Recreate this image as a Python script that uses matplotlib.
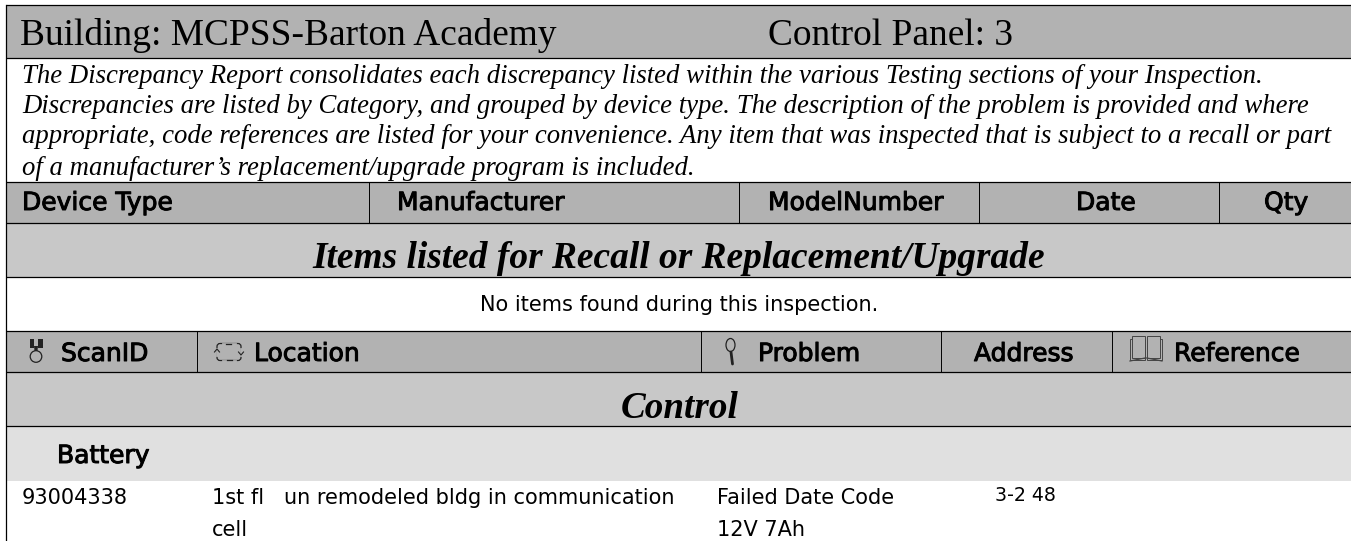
import matplotlib
matplotlib.use('Agg')
from matplotlib import pyplot as plt
from matplotlib import patheffects as pe
from matplotlib.patches import Rectangle, Circle, Ellipse, FancyBboxPatch, Polygon

W, H = 1351, 541

building = 'Building: MCPSS-Barton Academy'
panel = 'Control Panel: 3'
intro_lines = [
    'The Discrepancy Report consolidates each discrepancy listed within the various Testing sections of your Inspection.',
    'Discrepancies are listed by Category, and grouped by device type. The description of the problem is provided and where',
    'appropriate, code references are listed for your convenience. Any item that was inspected that is subject to a recall or part',
    'of a manufacturer\u2019s replacement/upgrade program is included.',
]
recall_cols = ['Device Type', 'Manufacturer', 'ModelNumber', 'Date', 'Qty']
recall_title = 'Items listed for Recall or Replacement/Upgrade'
recall_empty = 'No items found during this inspection.'
disc_cols = ['ScanID', 'Location', 'Problem', 'Address', 'Reference']
category = 'Control'
device_group = 'Battery'
scan_id = '93004338'
location_lines = ['1st fl   un remodeled bldg in communication', 'cell']
problem_lines = ['Failed Date Code', '12V 7Ah']
address = '3-2 48'

DARK = '#b2b2b2'
MID = '#c8c8c8'
LIGHT = '#e0e0e0'
INK = '#222222'
SERIF = 'Liberation Serif'
SANS = 'DejaVu Sans'

fig = plt.figure(figsize=(W / 100, H / 100), dpi=100)
ax = fig.add_axes([0, 0, 1, 1])
ax.set_xlim(0, W)
ax.set_ylim(H, 0)
ax.axis('off')

# background bands
for y0, y1, c in [(5, 58, DARK), (181.5, 223, DARK), (223, 277, MID), (331, 372, DARK),
                  (372, 426, MID), (426, 481, LIGHT)]:
    ax.add_patch(Rectangle((5.5, y0), W - 5, y1 - y0, fc=c, ec='none', zorder=1))

# rules
for y in [4.5, 58, 181.5, 223, 277, 331, 372, 426]:
    ax.plot([5.5, W], [y, y], color='black', lw=0.9, zorder=2, solid_capstyle='butt')
ax.plot([5.5, 5.5], [4.5, H], color='black', lw=0.9, zorder=2)
for x in [369, 739, 979, 1219]:
    ax.plot([x, x], [181.5, 223], color='black', lw=0.7, zorder=2, solid_capstyle='butt')
for x in [197, 701, 941, 1112]:
    ax.plot([x, x], [331, 372], color='black', lw=0.7, zorder=2, solid_capstyle='butt')


def bold(x, y, s):
    ax.text(x, y, s, family=SANS, fontsize=18, color='black', va='baseline', zorder=3,
            path_effects=[pe.withStroke(linewidth=0.7, foreground='black')])


def body(x, y, s, **kw):
    ax.text(x, y, s, family=SANS, fontsize=kw.pop('fontsize', 15), color='black',
            va='baseline', zorder=3, **kw)


ax.text(20, 45, building, family=SERIF, fontsize=26.9, va='baseline', zorder=3)
ax.text(768, 45, panel, family=SERIF, fontsize=26.9, va='baseline', zorder=3)

for y, line in zip([83, 113, 143, 175], intro_lines):
    ax.text(22, y, line, family=SERIF, style='italic', fontsize=19.25, va='baseline', zorder=3)

for x, s in zip([22, 397, 768, 1076, 1264], recall_cols):
    bold(x, 210, s)
for x, s in zip([61, 254, 758, 974, 1174], disc_cols):
    bold(x, 361, s)

ax.text(679, 268, recall_title, family=SERIF, style='italic', weight='bold', fontsize=26.9,
        ha='center', va='baseline', zorder=3)
ax.text(680, 418, category, family=SERIF, style='italic', weight='bold', fontsize=26.7,
        ha='center', va='baseline', zorder=3)
body(679, 311, recall_empty, ha='center')
bold(57, 463, device_group)

body(22, 504, scan_id)
for y, a, b in zip([504, 536], location_lines, problem_lines):
    body(212, y, a)
    body(717, y, b)
body(995, 501, address, fontsize=13.7)

# medal icon
ax.add_patch(Rectangle((29.5, 339), 4.5, 9, fc=INK, ec='none', zorder=3))
ax.add_patch(Rectangle((38, 339), 4.5, 9, fc=INK, ec='none', zorder=3))
ax.add_patch(Polygon([[34, 346], [38, 346], [37.5, 351], [34.5, 351]], fc=INK, ec='none', zorder=3))
ax.add_patch(Circle((36, 356.5), 5.8, fc='none', ec=INK, lw=0.9, zorder=3))

# location icon
ax.add_patch(FancyBboxPatch((217, 343.5), 24, 17, boxstyle='round,pad=0,rounding_size=3',
                            fc='none', ec=INK, lw=0.9, zorder=3))
ax.plot([223, 235], [343.5, 343.5], color=DARK, lw=2, zorder=3)
ax.plot([223, 235], [360.5, 360.5], color=DARK, lw=2, zorder=3)
ax.plot([217, 217], [349, 355], color=DARK, lw=2, zorder=3)
ax.plot([241, 241], [349, 355], color=DARK, lw=2, zorder=3)
ax.plot([226, 231], [344, 344], color=INK, lw=0.9, zorder=4)
ax.plot([227, 232], [360, 360], color=INK, lw=0.9, zorder=4)
ax.plot([214.5, 217, 219.5], [352, 349, 352], color=INK, lw=0.8, zorder=4)
ax.plot([238.5, 241, 243.5], [352, 355, 352], color=INK, lw=0.8, zorder=4)

# magnifier icon
ax.add_patch(Ellipse((730.5, 345), 9, 13, fc='none', ec=INK, lw=0.9, zorder=3))
ax.plot([731, 732.5], [352, 364], color=INK, lw=2, zorder=3, solid_capstyle='round')

# book icon
for x0, x1 in [(1130, 1145), (1147, 1162)]:
    ax.add_patch(Rectangle((x0, 339), 15, 21, fc='none', ec='#444444', lw=0.7, zorder=3))
ax.add_patch(Rectangle((1132, 336), 13, 22, fc=DARK, ec='#444444', lw=0.7, zorder=3))
ax.add_patch(Rectangle((1147, 336), 13, 22, fc=DARK, ec='#444444', lw=0.7, zorder=3))
ax.plot([1130, 1145, 1147, 1162], [361, 358, 358, 361], color='#444444', lw=0.9, zorder=4)

fig.savefig('out.png', dpi=100)
